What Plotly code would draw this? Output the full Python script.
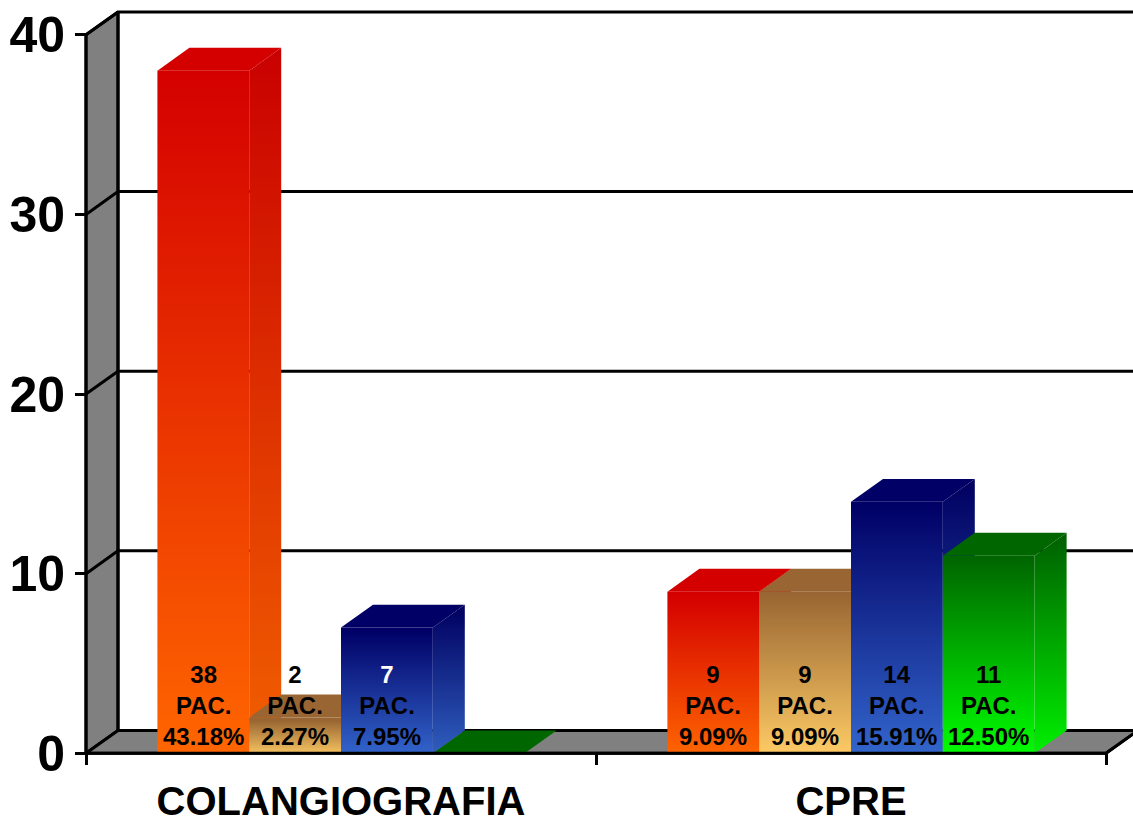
import plotly.graph_objects as go

# ---- data -------------------------------------------------------------
categories = ["COLANGIOGRAFIA", "CPRE"]
y_ticks = [0, 10, 20, 30, 40]

red_counts = [38, 9]
brown_counts = [2, 9]
blue_counts = [7, 14]
green_counts = [0, 11]

red_pct = ["43.18%", "9.09%"]
brown_pct = ["2.27%", "9.09%"]
blue_pct = ["7.95%", "15.91%"]
green_pct = ["", "12.50%"]

# ---- styling ----------------------------------------------------------
FONT = "Liberation Sans, Arial, sans-serif"
W, H = 1133, 823
X0_PX, Y0_PX = 86, 757          # pixel position of the front origin
PX_PER_CAT = 510                # pixels per category on the front axis
PX_PER_UNIT = 18.05             # pixels per count on the front axis
DEPTH_PX = (32, 23)             # 3-D depth offset (right, up) in pixels

DX = DEPTH_PX[0] / PX_PER_CAT
DY = DEPTH_PX[1] / PX_PER_UNIT
X_MIN = -X0_PX / PX_PER_CAT
X_MAX = (W - X0_PX) / PX_PER_CAT
Y_MIN = -(H - Y0_PX) / PX_PER_UNIT
Y_MAX = Y0_PX / PX_PER_UNIT

GROUP_PAD = 0.14
BAR_W = 0.18
WALL = "#808080"
EDGE = dict(color="black", width=3)

# (bottom colour, top colour) of each series gradient
series = [
    (red_counts, red_pct, ("#ff6600", "#d40000")),
    (brown_counts, brown_pct, ("#ffcc66", "#996633")),
    (blue_counts, blue_pct, ("#3366cc", "#000066")),
    (green_counts, green_pct, ("#00ff00", "#006600")),
]
# colour of the count line of each label (series, category)
count_colors = {(2, 0): "white"}


def darker(hex_color, f=0.95):
    r, g, b = (int(hex_color[i:i + 2], 16) for i in (1, 3, 5))
    return "#%02x%02x%02x" % (int(r * f), int(g * f), int(b * f))


fig = go.Figure()


def poly(xs, ys, fill=None, line=None, gradient=None):
    kw = dict(x=xs, y=ys, mode="lines", hoverinfo="skip", showlegend=False)
    if fill is not None or gradient is not None:
        kw["fill"] = "toself"
    if fill is not None:
        kw["fillcolor"] = fill
    if gradient is not None:
        kw["fillgradient"] = gradient
    kw["line"] = line if line is not None else dict(width=0)
    fig.add_trace(go.Scatter(**kw))


# ---- walls and floor -------------------------------------------------
top = y_ticks[-1]
n_cat = len(categories)
# left wall
poly([0, 0, DX, DX, 0], [0, top, top + DY, DY, 0], fill=WALL, line=EDGE)
# floor
poly([0, n_cat, n_cat + DX, DX, 0], [0, 0, DY, DY, 0], fill=WALL, line=EDGE)
# back-wall gridlines and their diagonals on the left wall
for v in y_ticks[1:]:
    poly([0, DX, n_cat + DX], [v, v + DY, v + DY], line=EDGE)
# back wall left edge
poly([DX, DX], [DY, top + DY], line=EDGE)

# ---- bars ---------------------------------------------------------------
for g in range(n_cat):
    for i, (counts, pcts, (c_bot, c_top)) in enumerate(series):
        v = counts[g]
        x0 = g + GROUP_PAD + i * BAR_W
        x1 = x0 + BAR_W
        if v > 0:
            # side face
            poly([x1, x1 + DX, x1 + DX, x1, x1], [0, DY, v + DY, v, 0],
                 gradient=dict(type="vertical", start=0, stop=v + DY,
                               colorscale=[[0, darker(c_bot)], [1, darker(c_top)]]))
        # top face
        poly([x0, x0 + DX, x1 + DX, x1, x0], [v, v + DY, v + DY, v, v], fill=c_top)
        if v > 0:
            # front face
            poly([x0, x1, x1, x0, x0], [0, 0, v, v, 0],
                 gradient=dict(type="vertical", start=0, stop=v,
                               colorscale=[[0, c_bot], [1, c_top]]))

# front edges of the floor and left wall
poly([0, 0, n_cat, n_cat + DX], [top, 0, 0, DY], line=EDGE)

# ---- value labels ------------------------------------------------------
for g in range(n_cat):
    for i, (counts, pcts, _) in enumerate(series):
        v = counts[g]
        if v <= 0:
            continue
        xc = g + GROUP_PAD + (i + 0.5) * BAR_W
        c = count_colors.get((i, g), "black")
        txt = f"<span style='color:{c}'>{v}</span><br>PAC.<br>{pcts[g]}"
        fig.add_annotation(x=xc, y=0, text=txt, showarrow=False,
                           xanchor="center", yanchor="middle", yshift=48,
                           font=dict(family=FONT, size=24, color="black", weight="bold"))

fig.update_layout(
    width=W, height=H,
    margin=dict(l=0, r=0, t=0, b=0),
    paper_bgcolor="white", plot_bgcolor="white",
    showlegend=False,
    xaxis=dict(
        range=[X_MIN, X_MAX], anchor="free", position=(H - Y0_PX) / H,
        tickvals=[g + 0.5 for g in range(n_cat)], ticktext=categories,
        ticks="", showgrid=False, zeroline=False, showline=False,
        ticklabelstandoff=21,
        tickfont=dict(family=FONT, size=40, color="black", weight="bold"),
        minor=dict(tickvals=list(range(n_cat + 1)), ticks="outside", ticklen=11,
                   tickwidth=3, tickcolor="black", showgrid=False),
    ),
    yaxis=dict(
        range=[Y_MIN, Y_MAX], anchor="free", position=X0_PX / W,
        tickvals=y_ticks, ticks="outside", ticklen=11, tickwidth=3,
        tickcolor="black", showgrid=False, zeroline=False, showline=False,
        ticklabelstandoff=0,
        tickfont=dict(family=FONT, size=50, color="black", weight="bold"),
    ),
)

fig.write_html("out.html")
